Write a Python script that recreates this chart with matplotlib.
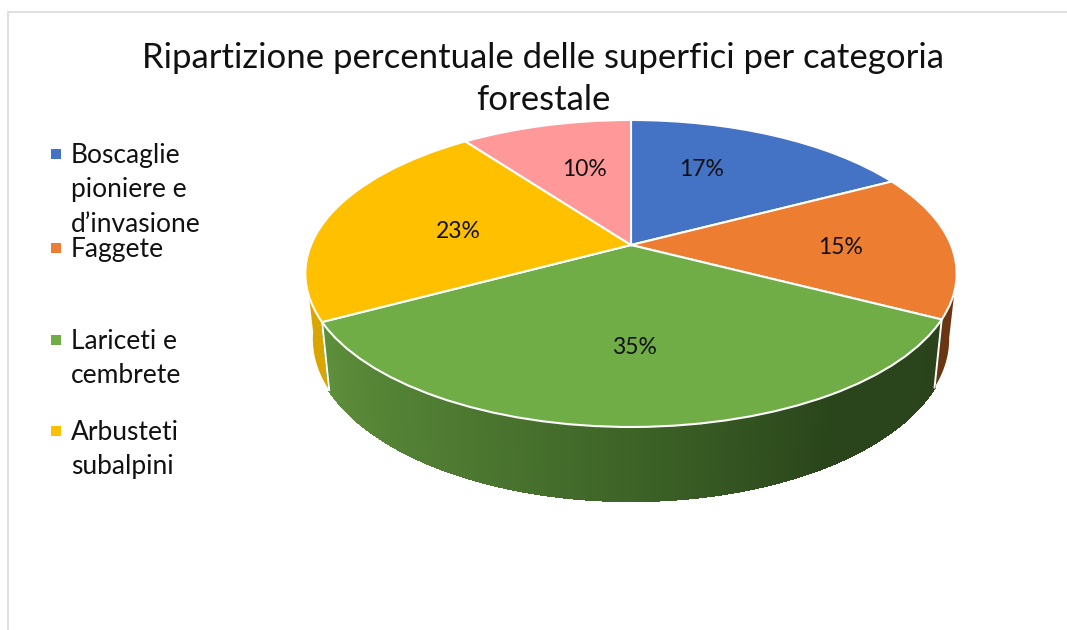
import numpy as np
import matplotlib
matplotlib.use("Agg")
import matplotlib.pyplot as plt
from matplotlib.collections import PolyCollection
from matplotlib.colors import LinearSegmentedColormap
from matplotlib.transforms import Transform

plt.rcParams['font.family'] = ['Lato', 'DejaVu Sans']

title = "Ripartizione percentuale delle superfici per categoria\nforestale"
categories = ["Boscaglie\npioniere e\nd\u2019invasione", "Faggete", "Lariceti e\ncembrete", "Arbusteti\nsubalpini"]
shares = [17.3, 15.3, 34.54, 22.72, 10.14]
colors = ["#4472C4", "#ED7D31", "#70AD47", "#FFC000", "#FF9999"]

# layout, in reference pixels
CX, CY, A, B, K = 631.0, 245.0, 320.0, 148.2, 0.1856
label_xy = [(702, 170), (841, 248), (634, 348), (458, 232), (584, 170)]
legend_y = [153, 247, 339, 430]


class Perspective(Transform):
    """Tilts the unit pie into the reference's perspective view (pixels)."""
    input_dims = output_dims = 2
    is_affine = False
    has_inverse = False

    def transform_non_affine(self, values):
        v = np.asarray(values, float).reshape(-1, 2)
        d = 1 + K * v[:, 1]
        return np.column_stack([CX + A * v[:, 0] / d, CY - B * v[:, 1] / d])


persp = Perspective()


def rim(a0, a1, n=80):
    t = np.radians(90 - np.linspace(a0, a1, n))
    return persp.transform_non_affine(np.column_stack([np.cos(t), np.sin(t)]))


def lower(p):
    q = p.copy()
    q[:, 0] = CX + (p[:, 0] - CX) * 0.977
    q[:, 1] = p[:, 1] + 68 + (p[:, 1] - 320) * 0.056
    return q


fig = plt.figure(figsize=(10.67, 6.30), dpi=100, facecolor="white")
ax = fig.add_axes([0, 0, 1, 1])

wedges, _, pcts = ax.pie(shares, colors=colors, startangle=90, counterclock=False,
                         autopct="%.0f%%", textprops=dict(fontsize=16.5, color="#111111"),
                         wedgeprops=dict(edgecolor="white", linewidth=1.5))
ax.set_aspect("auto")
ax.set_xlim(0, 1067)
ax.set_ylim(630, 0)
ax.axis("off")
for w in wedges:
    w.set_transform(persp + ax.transData)
    w.set_zorder(3)
for t, xy in zip(pcts, label_xy):
    t.set_position(xy)
    t.set_ha("center")
    t.set_va("center")
    t.set_zorder(4)

edges = np.cumsum([0] + shares) / sum(shares) * 360

# side walls
p = rim(edges[2], edges[3], 240)
cmap = LinearSegmentedColormap.from_list("g", ["#5E8F3B", "#4F7C32", "#3D6327", "#2A451B", "#2A431B"])
top, bot = p, lower(p)
quads = [np.array([top[i], top[i + 1], bot[i + 1], bot[i]]) for i in range(len(p) - 1)]
ax.add_collection(PolyCollection(quads, facecolors=cmap(1 - np.linspace(0, 1, len(quads))),
                                 edgecolors="face", linewidths=1.0, antialiaseds=False, zorder=2))
for (a0, a1, c) in [(edges[3], edges[3] + 20, "#DBA500"), (edges[2] - 17, edges[2], "#6B3512")]:
    r = rim(a0, a1, 30)
    ax.fill(*np.vstack([r, lower(r)[::-1]]).T, color=c, lw=0, zorder=1)
for a in (edges[2], edges[3]):
    r = rim(a, a, 2)[:1]
    s = np.vstack([r, lower(r)])
    ax.plot(s[:, 0], s[:, 1], color="white", lw=1.4, zorder=2.5)

# chart frame
ax.plot([8, 8, 1067], [630, 12, 12], color="#D9D9D9", lw=1.2, zorder=0, solid_joinstyle="miter")

ax.text(543, 79, title, ha="center", va="center", fontsize=25, color="#111111", linespacing=1.38)

for name, c, y in zip(categories, colors, legend_y):
    ax.plot([56], [y + 1], marker="s", ms=7.5, color=c, mew=0, ls="none")
    ax.text(71, y - 10, name, ha="left", va="top", fontsize=19, color="#111111", linespacing=1.47)

fig.savefig("out.png", dpi=100)
